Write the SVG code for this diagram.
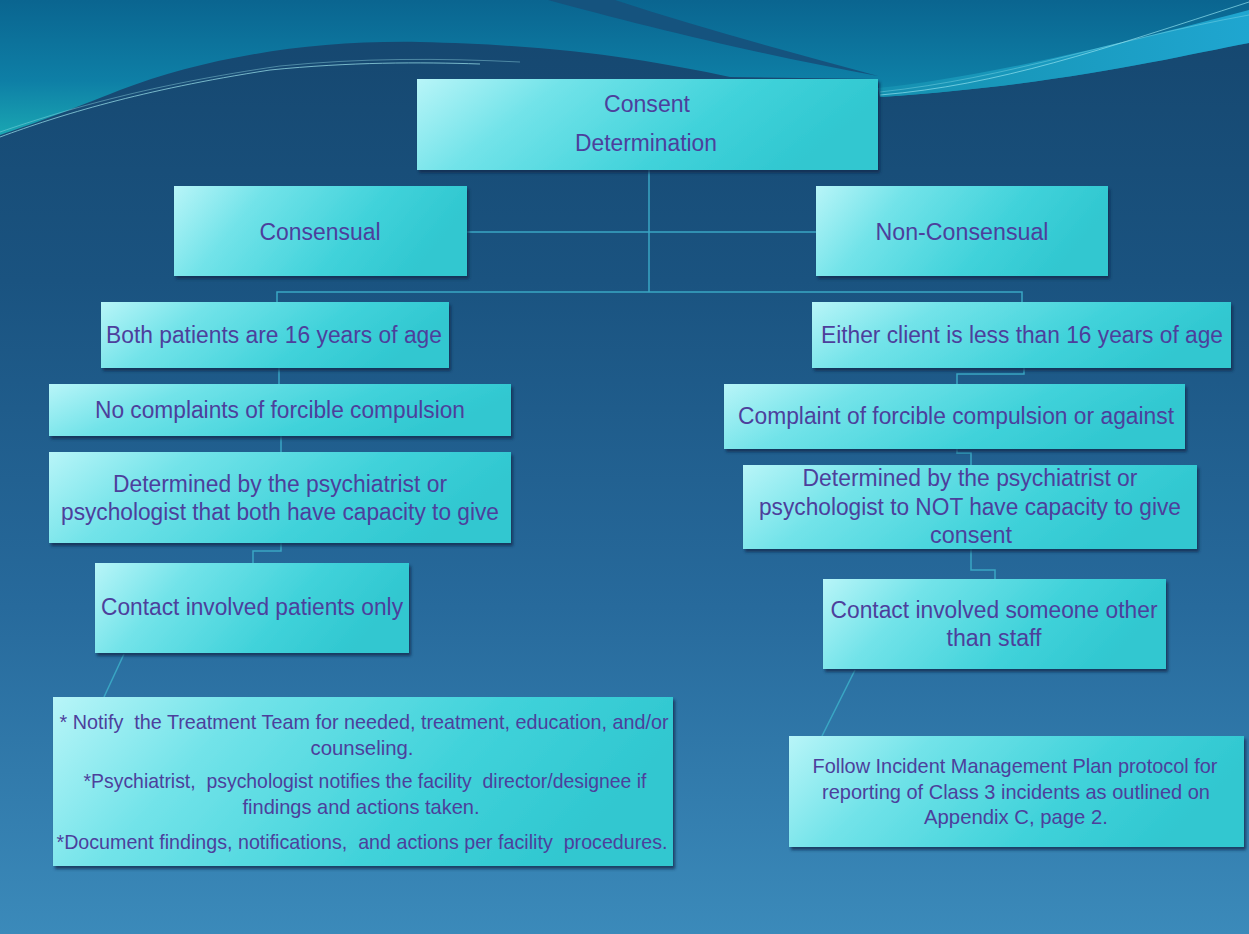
<svg xmlns="http://www.w3.org/2000/svg" width="1249" height="934" viewBox="0 0 1249 934">
<style>
.box{fill:url(#boxg);filter:url(#sh)}
.t{font-family:"Liberation Sans",Arial,sans-serif;fill:#4d3f9c;text-anchor:middle;font-size:23px;white-space:pre}
.s{font-size:21px}
.c{fill:none;stroke:#3aa6c4;stroke-width:1.5}
</style>
<defs>
<linearGradient id="bg" x1="0" y1="0" x2="0" y2="1">
<stop offset="0" stop-color="#15466e"/>
<stop offset="0.3" stop-color="#1a5380"/>
<stop offset="0.65" stop-color="#276a9c"/>
<stop offset="1" stop-color="#3b8aba"/>
</linearGradient>
<linearGradient id="up" x1="0" y1="0" x2="0" y2="1">
<stop offset="0" stop-color="#0a6590"/>
<stop offset="0.6" stop-color="#0e7fa6"/>
<stop offset="1" stop-color="#1aa6b2"/>
</linearGradient>
<linearGradient id="band" x1="0" y1="0" x2="1" y2="0">
<stop offset="0" stop-color="#1590b0"/>
<stop offset="1" stop-color="#1fa6d0"/>
</linearGradient>
<linearGradient id="boxg" x1="0" y1="0" x2="1" y2="0.25">
<stop offset="0" stop-color="#b8f5f8"/>
<stop offset="0.3" stop-color="#72e3e9"/>
<stop offset="0.7" stop-color="#40d2da"/>
<stop offset="1" stop-color="#30c7d0"/>
</linearGradient>
<filter id="sh" x="-5%" y="-10%" width="110%" height="125%">
<feDropShadow dx="2" dy="3" stdDeviation="1.5" flood-color="#0a2c4c" flood-opacity="0.75"/>
</filter>
</defs>
<g id="background">
<rect width="1249" height="934" fill="url(#bg)"/>
<path d="M0,0 H1249 V43 C1170,58 1060,85 880,97 L878,79 L730,77 C650,60 560,45 420,42 C300,40 200,60 120,90 C70,110 30,125 0,135 Z" fill="url(#up)"/>
<path d="M548,0 C640,25 760,55 878,76 C790,52 700,28 615,0 Z" fill="#15537e"/>
<path d="M878,88 C960,80 1080,55 1249,10 V43 C1170,58 1060,85 880,97 Z" fill="url(#band)"/>
<path d="M880,95 C1000,85 1100,50 1249,2" fill="none" stroke="#8fe0ee" stroke-width="1" opacity="0.7"/>
<path d="M880,92 C1010,78 1110,40 1249,15" fill="none" stroke="#8fe0ee" stroke-width="0.8" opacity="0.5"/>
<path d="M0,137 C60,115 140,90 270,70 C350,62 420,62 480,64" fill="none" stroke="#9fe6ee" stroke-width="1" opacity="0.7"/>
<path d="M0,132 C70,108 150,85 280,66 C360,58 440,58 520,62" fill="none" stroke="#9fe6ee" stroke-width="0.8" opacity="0.5"/>
</g>
<g id="connectors">
<path class="c" d="M649,170 V292"/>
<path class="c" d="M467,232 H816"/>
<path class="c" d="M277,302 V292 H1022 V302"/>
<path class="c" d="M279,368 V384"/>
<path class="c" d="M281,436 V452"/>
<path class="c" d="M281,543 V551 H253 V563"/>
<path class="c" d="M1024,368 V374 H957 V384"/>
<path class="c" d="M957,449 V453 H971 V465"/>
<path class="c" d="M971,549 V570 H995 V579"/>
<path class="c" d="M124,654 L104,697"/>
<path class="c" d="M855,670 L822,736"/>
</g>
<g id="consent-determination">
<rect class="box" x="417" y="79" width="461" height="91"/>
<text class="t" x="647" y="112" font-size="22" textLength="86" lengthAdjust="spacingAndGlyphs">Consent</text>
<text class="t" x="646" y="151" font-size="22" textLength="142" lengthAdjust="spacingAndGlyphs">Determination</text>
</g>
<g id="consensual">
<rect class="box" x="174" y="186" width="293" height="90"/>
<text class="t" x="320" y="240" textLength="121" lengthAdjust="spacingAndGlyphs">Consensual</text>
</g>
<g id="non-consensual">
<rect class="box" x="816" y="186" width="292" height="90"/>
<text class="t" x="962" y="240" textLength="173" lengthAdjust="spacingAndGlyphs">Non-Consensual</text>
</g>
<g id="both-16">
<rect class="box" x="101" y="302" width="348" height="66"/>
<text class="t" x="274" y="343" textLength="336" lengthAdjust="spacingAndGlyphs">Both patients are 16 years of age</text>
</g>
<g id="either-less-16">
<rect class="box" x="812" y="302" width="419" height="66"/>
<text class="t" x="1022" y="343" textLength="402" lengthAdjust="spacingAndGlyphs">Either client is less than 16 years of age</text>
</g>
<g id="no-complaints">
<rect class="box" x="49" y="384" width="462" height="52"/>
<text class="t" x="280" y="418" textLength="370" lengthAdjust="spacingAndGlyphs">No complaints of forcible compulsion</text>
</g>
<g id="complaint">
<rect class="box" x="724" y="384" width="461" height="65"/>
<text class="t" x="956" y="424" textLength="436" lengthAdjust="spacingAndGlyphs">Complaint of forcible compulsion or against</text>
</g>
<g id="determined-capacity">
<rect class="box" x="49" y="452" width="462" height="91"/>
<text class="t" x="280" y="492" textLength="334" lengthAdjust="spacingAndGlyphs">Determined by the psychiatrist or</text>
<text class="t" x="280" y="520" textLength="438" lengthAdjust="spacingAndGlyphs">psychologist that both have capacity to give</text>
</g>
<g id="determined-no-capacity">
<rect class="box" x="743" y="465" width="454" height="84"/>
<text class="t" x="970" y="486" textLength="335" lengthAdjust="spacingAndGlyphs">Determined by the psychiatrist or</text>
<text class="t" x="970" y="515" textLength="422" lengthAdjust="spacingAndGlyphs">psychologist to NOT have capacity to give</text>
<text class="t" x="971" y="543" textLength="82" lengthAdjust="spacingAndGlyphs">consent</text>
</g>
<g id="contact-patients">
<rect class="box" x="95" y="563" width="314" height="90"/>
<text class="t" x="252" y="615" textLength="302" lengthAdjust="spacingAndGlyphs">Contact involved patients only</text>
</g>
<g id="contact-someone">
<rect class="box" x="823" y="579" width="343" height="90"/>
<text class="t" x="994" y="618" textLength="327" lengthAdjust="spacingAndGlyphs">Contact involved someone other</text>
<text class="t" x="994" y="646" textLength="95" lengthAdjust="spacingAndGlyphs">than staff</text>
</g>
<g id="notify">
<rect class="box" x="53" y="697" width="620" height="169"/>
<text class="t s" x="364" y="729" textLength="609" lengthAdjust="spacingAndGlyphs">* Notify  the Treatment Team for needed, treatment, education, and/or</text>
<text class="t s" x="362" y="755" textLength="103" lengthAdjust="spacingAndGlyphs">counseling.</text>
<text class="t s" x="365" y="788" textLength="563" lengthAdjust="spacingAndGlyphs">*Psychiatrist,  psychologist notifies the facility  director/designee if</text>
<text class="t s" x="361" y="814" textLength="237" lengthAdjust="spacingAndGlyphs">findings and actions taken.</text>
<text class="t s" x="362" y="849" textLength="611" lengthAdjust="spacingAndGlyphs">*Document findings, notifications,  and actions per facility  procedures.</text>
</g>
<g id="follow-plan">
<rect class="box" x="789" y="736" width="455" height="111"/>
<text class="t s" x="1015" y="773" textLength="405" lengthAdjust="spacingAndGlyphs">Follow Incident Management Plan protocol for</text>
<text class="t s" x="1016" y="799" textLength="388" lengthAdjust="spacingAndGlyphs">reporting of Class 3 incidents as outlined on</text>
<text class="t s" x="1016" y="824" textLength="184" lengthAdjust="spacingAndGlyphs">Appendix C, page 2.</text>
</g>
</svg>
